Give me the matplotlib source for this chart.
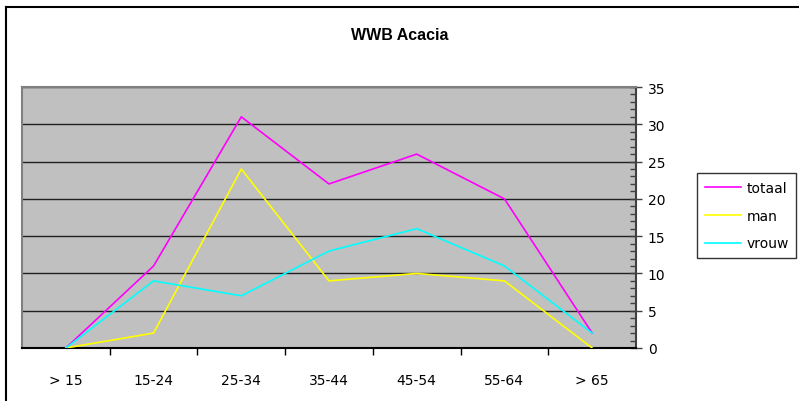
import matplotlib
matplotlib.use("Agg")
import matplotlib.pyplot as plt
from matplotlib.ticker import MultipleLocator
from matplotlib.lines import Line2D

categories = ["> 15", "15-24", "25-34", "35-44", "45-54", "55-64", "> 65"]
totaal = [0, 11, 31, 22, 26, 20, 2]
man = [0, 2, 24, 9, 10, 9, 0]
vrouw = [0, 9, 7, 13, 16, 11, 2]

plt.rcParams['font.family'] = ['DejaVu Sans']

fig = plt.figure(figsize=(7.99, 4.02), dpi=100)
fig.patch.set_facecolor('white')

# outer frame (left and top visible)
fig.add_artist(Line2D([6/799, 6/799], [0, 1 - 8/402], color='black', lw=1.5, transform=fig.transFigure))
fig.add_artist(Line2D([6/799, 798/799], [1 - 8/402, 1 - 8/402], color='black', lw=1.5, transform=fig.transFigure))

ax = fig.add_axes([22/799, 1 - 349/402, (636 - 22)/799, (349 - 88)/402])
ax.set_facecolor('#C0C0C0')

x = list(range(len(categories)))
ax.plot(x, totaal, color='#FF00FF', lw=1.2, label='totaal', zorder=3)
ax.plot(x, man, color='#FFFF00', lw=1.2, label='man', zorder=3)
ax.plot(x, vrouw, color='#00FFFF', lw=1.2, label='vrouw', zorder=3)

ax.set_xlim(-0.5, len(categories) - 0.5)
ax.set_ylim(0, 35)

ax.yaxis.tick_right()
ax.yaxis.set_major_locator(MultipleLocator(5))
ax.yaxis.set_minor_locator(MultipleLocator(1))
ax.tick_params(axis='y', which='major', direction='inout', length=9, width=1, color='#404040',
               labelsize=10, pad=4)
ax.tick_params(axis='y', which='minor', direction='in', length=4, width=1, color='#404040')
ax.tick_params(axis='y', left=False, which='both')

ax.set_xticks(x)
ax.set_xticklabels(categories)
ax.tick_params(axis='x', which='major', length=0, labelsize=10, pad=18)
ax.set_xticks([i + 0.5 for i in range(len(categories) - 1)], minor=True)
ax.tick_params(axis='x', which='minor', direction='out', length=5, width=1, color='black')

ax.grid(True, axis='y', which='major', color='#202020', lw=1)
ax.set_axisbelow(True)

for s in ['left', 'top']:
    ax.spines[s].set_color('#808080')
    ax.spines[s].set_linewidth(1.5)
ax.spines['right'].set_color('#404040')
ax.spines['right'].set_linewidth(1.5)
ax.spines['bottom'].set_color('black')
ax.spines['bottom'].set_linewidth(1.5)

fig.text(400/799, 1 - 35/402, "WWB Acacia", ha='center', va='center', fontsize=11.5,
         fontweight='bold', family='Liberation Sans')

leg = fig.legend(handles=ax.get_lines(), loc='upper left',
                 bbox_to_anchor=(697/799, 1 - 174/402), bbox_transform=fig.transFigure,
                 frameon=True, fancybox=False, edgecolor='black', fontsize=10,
                 handlelength=2.6, borderpad=0.55, labelspacing=1.0, handletextpad=0.4,
                 borderaxespad=0)
leg.get_frame().set_linewidth(1)

fig.savefig("out.png", dpi=100, facecolor='white')
